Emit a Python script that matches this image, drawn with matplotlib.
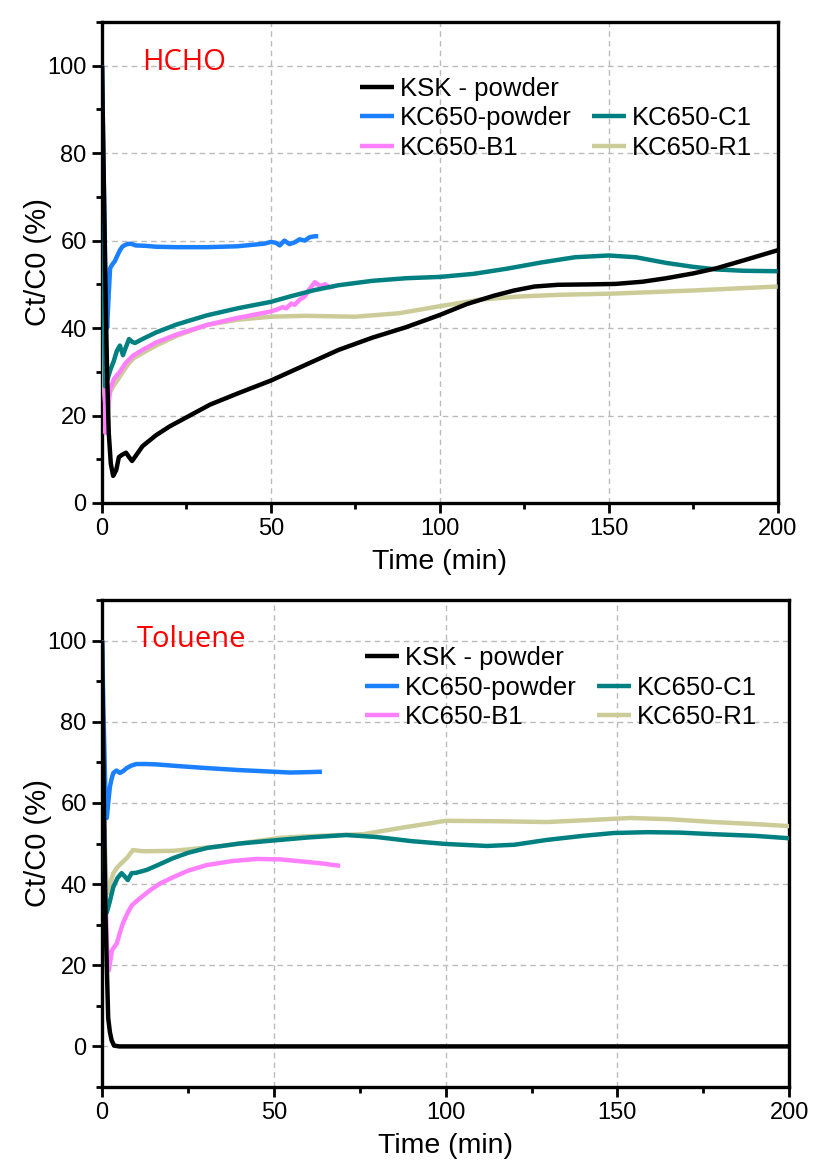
import matplotlib
matplotlib.use('Agg')
import matplotlib.pyplot as plt
from matplotlib.lines import Line2D
from matplotlib.ticker import MultipleLocator

plt.rcParams['font.family'] = ['Liberation Sans', 'DejaVu Sans']

# ---- HCHO (top panel) ----
hcho_ksk_t = [0, 0.5, 1.0, 1.5, 2.0, 2.6, 3.3, 4.2, 5.0, 5.9, 7.1, 8.0, 8.9, 10, 12, 16, 20, 26, 32, 40, 50, 60, 70, 80, 90, 100, 108, 116, 122, 128, 135, 145, 152, 160, 167, 175, 182, 190, 200]
hcho_ksk_y = [100, 75, 50, 30, 16, 9, 6.2, 7.5, 10.5, 11, 11.5, 10.5, 9.6, 10.8, 13, 15.5, 17.5, 20, 22.5, 25, 28, 31.5, 35, 37.8, 40.2, 43, 45.5, 47.4, 48.6, 49.5, 49.9, 50, 50.1, 50.6, 51.4, 52.5, 53.7, 55.5, 57.8]

hcho_pow_t = [0, 0.5, 1.0, 1.5, 2.0, 2.4, 3.0, 3.8, 4.5, 5.3, 6.0, 6.8, 7.5, 8.5, 10, 13, 16, 22, 31, 40, 48, 50, 51.5, 52.6, 54, 55.5, 57, 58.5, 60, 61.5, 63, 64]
hcho_pow_y = [100, 75, 52, 40, 48, 53.7, 54.5, 55.3, 56.5, 57.8, 58.6, 59, 59.2, 59.3, 58.9, 58.8, 58.6, 58.5, 58.5, 58.7, 59.3, 59.7, 59.5, 58.9, 60, 59.2, 59.6, 60.3, 60, 60.8, 61, 61]

hcho_c1_t = [0, 0.5, 0.9, 1.5, 2.5, 3.5, 4.4, 5.3, 6.2, 7.0, 8.0, 9.0, 9.8, 12, 16, 22, 31, 40, 50, 56, 63, 70, 80, 90, 100, 110, 120, 130, 140, 150, 158, 167, 175, 182, 190, 200]
hcho_c1_y = [100, 50, 26.7, 28, 30.5, 32.5, 34.8, 36, 33.8, 35.5, 37.5, 36.8, 36.6, 37.5, 39, 40.8, 42.9, 44.5, 46, 47.3, 48.7, 49.8, 50.8, 51.4, 51.7, 52.4, 53.6, 55, 56.2, 56.6, 56.2, 54.9, 54, 53.4, 53.1, 53]

hcho_b1_t = [0, 0.5, 1.0, 1.6, 2.4, 3.5, 4.5, 5.3, 7.0, 9.2, 12, 16, 22, 31, 40, 46, 50, 52, 53.5, 54.5, 56, 57, 58.5, 60, 61.5, 63, 64.5, 66, 67.5, 69]
hcho_b1_y = [100, 50, 16, 20, 26, 28.3, 29.3, 30, 32, 33.7, 35, 36.7, 38.5, 40.7, 42.3, 43.2, 43.8, 44.3, 44.8, 44.5, 45.6, 45.3, 46.5, 47.2, 49, 50.5, 49.6, 50, 49.3, 49.7]

hcho_r1_t = [0, 0.3, 0.7, 1.2, 1.8, 2.5, 3.3, 4.5, 6.2, 7.5, 9.2, 12, 16, 22, 31, 40, 50, 60, 75, 88, 100, 112, 123, 135, 152, 175, 200]
hcho_r1_y = [72, 45, 25, 21, 23.7, 25.5, 26.7, 28, 30, 31.5, 33, 34.3, 36, 38.2, 40.7, 41.9, 42.6, 42.8, 42.6, 43.4, 45, 46.5, 47.2, 47.6, 47.9, 48.6, 49.5]

# ---- Toluene (bottom panel) ----
tol_ksk_t = [0, 0.3, 0.6, 0.9, 1.2, 1.4, 1.8, 2.3, 2.8, 3.5, 5, 20, 50, 100, 150, 200]
tol_ksk_y = [100, 78, 55, 36, 26, 19.5, 7, 3.5, 1.5, 0.2, 0, 0, 0, 0, 0, 0]

tol_pow_t = [0, 0.5, 1.0, 1.4, 1.8, 2.3, 2.8, 3.3, 4.2, 5.2, 6.2, 7.2, 8.5, 10, 13, 16, 22, 30.5, 40, 50, 54.7, 60, 64]
tol_pow_y = [100, 80, 62, 56.3, 60, 64, 66, 67.4, 68, 67.4, 67.9, 68.6, 69.2, 69.6, 69.6, 69.5, 69.1, 68.6, 68.1, 67.7, 67.5, 67.6, 67.7]

tol_c1_t = [0, 0.5, 1.0, 1.4, 2.2, 3.3, 4.5, 5.7, 6.5, 7.5, 8.6, 10, 13, 16, 20.7, 25, 30.5, 40, 51.8, 60, 71, 80, 90, 100, 112, 120, 129.5, 140, 149, 158.6, 168, 178, 190, 200]
tol_c1_y = [100, 60, 36, 33, 35.5, 39.3, 41.5, 42.7, 42, 41, 42.7, 42.8, 43.5, 44.6, 46.4, 47.7, 48.9, 50, 50.9, 51.5, 52.1, 51.6, 50.6, 49.9, 49.4, 49.7, 50.9, 51.9, 52.6, 52.8, 52.7, 52.3, 51.9, 51.3]

tol_b1_t = [0, 0.5, 1.0, 1.5, 2.0, 2.9, 4.3, 5.2, 6.1, 7.5, 8.7, 11, 14, 17, 20.7, 25, 30.5, 38, 45, 51.8, 58, 64, 69.3]
tol_b1_y = [100, 65, 38, 24, 18.8, 23.7, 25.4, 28, 30.4, 33, 34.8, 36.5, 38.5, 40.2, 41.7, 43.3, 44.7, 45.7, 46.2, 46.1, 45.6, 45.1, 44.5]

tol_r1_t = [0, 0.4, 0.9, 1.3, 1.8, 2.5, 3.3, 4.5, 5.7, 7.2, 9, 12, 20.7, 28, 35, 45, 51.8, 60, 76, 88, 100, 115, 129.5, 142, 153.7, 165, 178, 190, 200]
tol_r1_y = [100, 70, 48, 40, 37.8, 40.5, 42.7, 44.2, 45.2, 46.4, 48.4, 48.1, 48.2, 48.8, 49.4, 50.6, 51.4, 51.8, 52.3, 54, 55.6, 55.5, 55.3, 55.8, 56.3, 56, 55.3, 54.8, 54.3]

labels = ['KSK - powder', 'KC650-powder', 'KC650-C1', 'KC650-B1', 'KC650-R1']
colors = ['#000000', '#1A80FF', '#008080', '#FF80FF', '#CCCC99']

fig = plt.figure(figsize=(8.26, 11.76), dpi=100)
ax1 = fig.add_axes([0.1235, 0.5723, 0.818, 0.409])
ax2 = fig.add_axes([0.1235, 0.0757, 0.832, 0.414])

panels = [
    (ax1, 'HCHO', (0, 110),
     [(hcho_ksk_t, hcho_ksk_y), (hcho_pow_t, hcho_pow_y), (hcho_c1_t, hcho_c1_y),
      (hcho_b1_t, hcho_b1_y), (hcho_r1_t, hcho_r1_y)],
     (0.060, 0.915), (0.382, 0.885)),
    (ax2, 'Toluene', (-10, 110),
     [(tol_ksk_t, tol_ksk_y), (tol_pow_t, tol_pow_y), (tol_c1_t, tol_c1_y),
      (tol_b1_t, tol_b1_y), (tol_r1_t, tol_r1_y)],
     (0.050, 0.920), (0.383, 0.905)),
]

draw_order = [3, 4, 2, 1, 0]

for ax, title, ylim, series, title_pos, leg_pos in panels:
    lines = {}
    for i in draw_order:
        t, y = series[i]
        lines[i], = ax.plot(t, y, color=colors[i], lw=3.2, label=labels[i],
                            solid_capstyle='butt', zorder=3 + (4 - i) * 0.1)

    ax.set_xlim(0, 200)
    ax.set_ylim(*ylim)
    ax.xaxis.set_major_locator(MultipleLocator(50))
    ax.xaxis.set_minor_locator(MultipleLocator(25))
    ax.yaxis.set_major_locator(MultipleLocator(20))
    ax.yaxis.set_minor_locator(MultipleLocator(10))
    ax.grid(True, which='major', color='#BBBBBB', ls=(0, (4, 3)), lw=1.0)
    ax.set_axisbelow(True)

    for s in ax.spines.values():
        s.set_linewidth(2.4)
    ax.tick_params(which='major', direction='out', length=7, width=2.0, labelsize=17, pad=4)
    ax.tick_params(which='minor', direction='out', length=4, width=2.0)

    ax.set_xlabel('Time (min)', fontsize=20.5, labelpad=6)
    ax.set_ylabel('Ct/C0 (%)', fontsize=21, labelpad=-3)

    ax.text(title_pos[0], title_pos[1], title, transform=ax.transAxes, color='red',
            fontsize=21, family=['Open Sans', 'DejaVu Sans'], va='center', ha='left')

    blank = Line2D([], [], color='none')
    handles = [lines[0], lines[1], lines[3], blank, lines[2], lines[4]]
    names = [labels[0], labels[1], labels[3], '', labels[2], labels[4]]
    ax.legend(handles, names, ncol=2, loc='upper left', bbox_to_anchor=leg_pos,
              frameon=False, fontsize=18.5, handlelength=1.3, handletextpad=0.25,
              columnspacing=0.8, labelspacing=0.2, borderpad=0, borderaxespad=0)

fig.savefig('out.png', dpi=100)
